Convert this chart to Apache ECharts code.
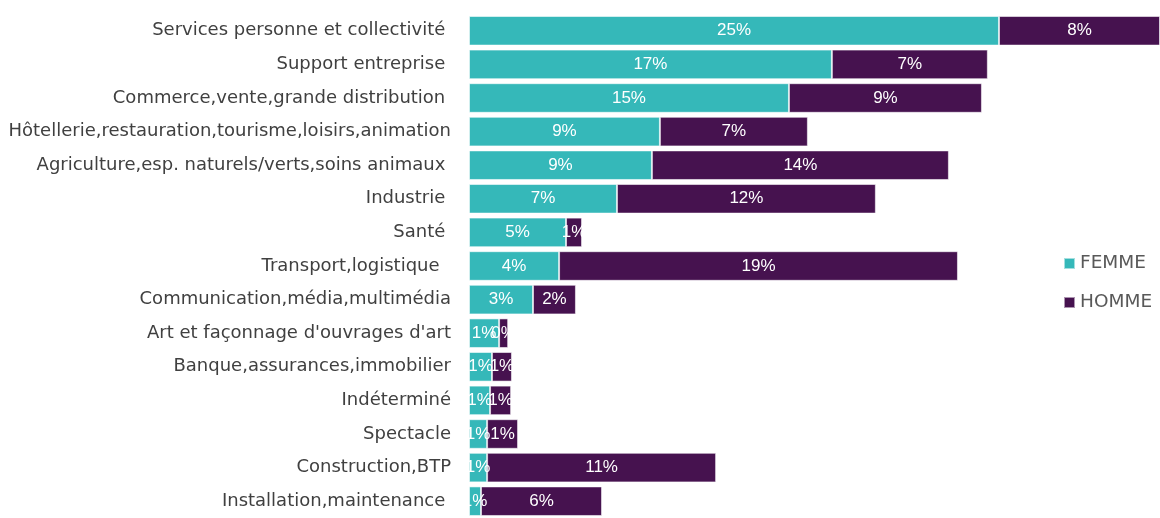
<!DOCTYPE html>
<html>
<head>
<meta charset="utf-8">
<script src="https://cdn.jsdelivr.net/npm/echarts@6/dist/echarts.min.js"></script>
<style>
  html, body { margin: 0; padding: 0; background: #fff; }
  #chart { width: 1160px; height: 518px; }
</style>
</head>
<body>
<div id="chart"></div>
<script>
// secteurs (du haut vers le bas)
var categories = [
  'Services personne et collectivité ',
  'Support entreprise ',
  'Commerce,vente,grande distribution ',
  'Hôtellerie,restauration,tourisme,loisirs,animation',
  'Agriculture,esp. naturels/verts,soins animaux ',
  'Industrie ',
  'Santé ',
  'Transport,logistique  ',
  'Communication,média,multimédia',
  "Art et façonnage d'ouvrages d'art",
  'Banque,assurances,immobilier',
  'Indéterminé',
  'Spectacle',
  'Construction,BTP',
  'Installation,maintenance '
];

var femme = [25.18, 17.24, 15.20, 9.07, 8.69, 7.03, 4.61, 4.28, 3.04, 1.43, 1.09, 1.00, 0.86, 0.86, 0.57];
var homme = [7.65, 7.41, 9.17, 7.03, 14.11, 12.30, 0.76, 18.95, 2.04, 0.43, 0.95, 1.00, 1.47, 10.88, 5.75];

var seriesNames = ['FEMME', 'HOMME'];
var colors = ['#35b8b9', '#46124f'];

var chart = echarts.init(document.getElementById('chart'));

function barLabel() {
  return {
    show: true,
    position: 'inside',
    color: '#fff',
    fontFamily: 'Liberation Sans, Arial, sans-serif',
    fontSize: 17,
    formatter: function (p) {
      return Math.round(p.value) + '%';
    }
  };
}

var option = {
  animation: false,
  backgroundColor: '#fff',
  grid: {
    left: 469,
    top: 14,
    width: 691,
    height: 510
  },
  legend: {
    orient: 'vertical',
    left: 1063,
    top: 254,
    padding: 0,
    icon: 'rect',
    itemWidth: 11,
    itemHeight: 11,
    itemGap: 20,
    textStyle: {
      color: '#595959',
      fontFamily: 'DejaVu Sans, Verdana, sans-serif',
      fontSize: 18.5
    },
    data: seriesNames
  },
  xAxis: {
    type: 'value',
    min: 0,
    max: 'dataMax',
    show: false
  },
  yAxis: {
    type: 'category',
    inverse: true,
    data: categories,
    axisLine: { show: false },
    axisTick: { show: false },
    axisLabel: {
      margin: 18,
      color: '#404040',
      fontFamily: 'DejaVu Sans, Verdana, sans-serif',
      fontSize: 18
    }
  },
  series: [
    {
      name: seriesNames[0],
      type: 'bar',
      stack: 'total',
      barCategoryGap: '12%',
      itemStyle: {
        color: colors[0],
        borderColor: 'rgba(255,255,255,0.55)',
        borderWidth: 1
      },
      label: barLabel(),
      data: femme
    },
    {
      name: seriesNames[1],
      type: 'bar',
      stack: 'total',
      barCategoryGap: '12%',
      itemStyle: {
        color: colors[1],
        borderColor: 'rgba(255,255,255,0.55)',
        borderWidth: 1
      },
      label: barLabel(),
      data: homme
    }
  ]
};

chart.setOption(option);
</script>
</body>
</html>
